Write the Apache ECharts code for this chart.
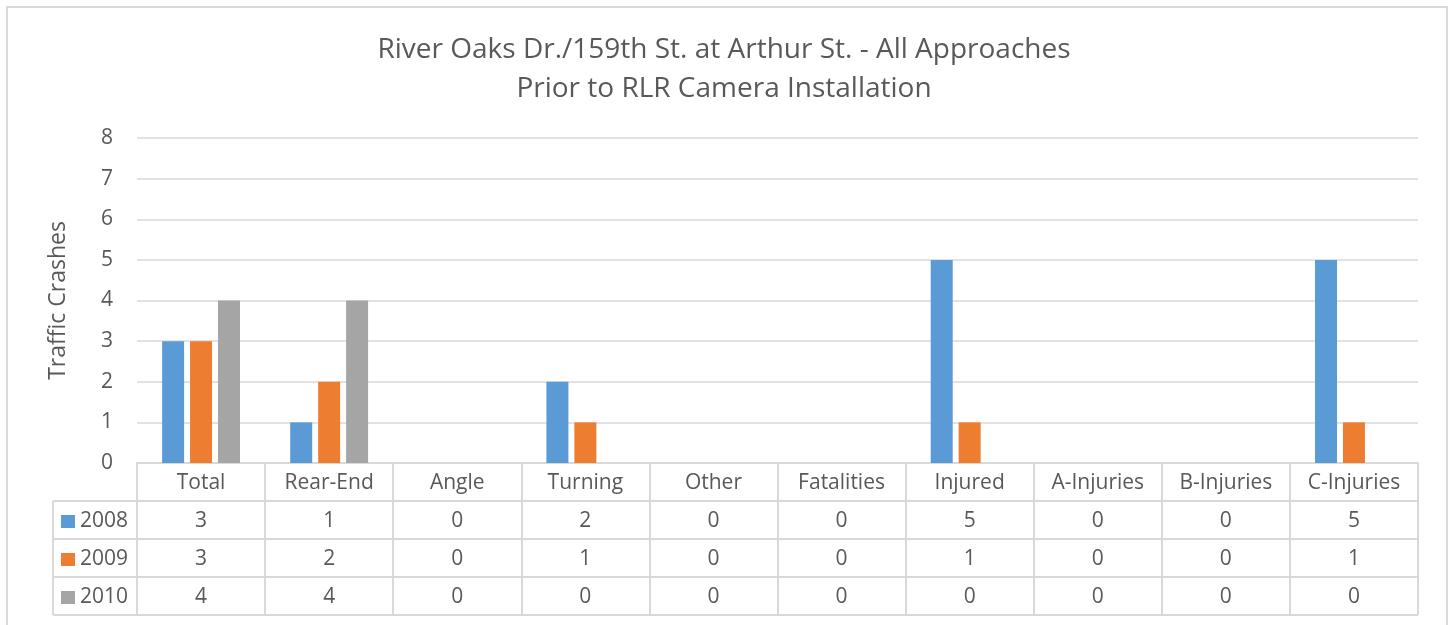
<!DOCTYPE html>
<html>
<head>
<meta charset="utf-8">
<script src="https://cdn.jsdelivr.net/npm/echarts@6/dist/echarts.min.js"></script>
<style>
html,body{margin:0;padding:0;background:#fff;}
#chart{width:1448px;height:625px;}
</style>
</head>
<body>
<div id="chart"></div>
<script>
const titleLines = ['River Oaks Dr./159th St. at Arthur St. - All Approaches', 'Prior to RLR Camera Installation'];
const categories = ['Total','Rear-End','Angle','Turning','Other','Fatalities','Injured','A-Injuries','B-Injuries','C-Injuries'];
const seriesNames = ['2008','2009','2010'];
const values2008 = [3,1,0,2,0,0,5,0,0,5];
const values2009 = [3,2,0,1,0,0,1,0,0,1];
const values2010 = [4,4,0,0,0,0,0,0,0,0];
const yTicks = [0,1,2,3,4,5,6,7,8];
const yAxisName = 'Traffic Crashes';

const seriesValues = [values2008, values2009, values2010];
const colors = ['#5b9bd5','#ed7d31','#a5a5a5'];
const FONT = 'Open Sans';
const TEXT = '#595959';
const LINE = '#d9d9d9';

// layout constants
const W = 1448, H = 625;
const gridLeft = 137, gridRight = 30, gridTop = 138, axisY = 463;
const rowH = 38, tableLeft = 53;
const labelSize = 21;
const labelMargin = 10;

const chart = echarts.init(document.getElementById('chart'), null, {renderer:'canvas'});

const xAxes = [{
  type:'category', data: categories, gridIndex:0, position:'bottom',
  axisLine:{show:true, lineStyle:{color:LINE, width:2}},
  axisTick:{show:true, length: rowH*4, lineStyle:{color:LINE, width:2}},
  axisLabel:{color:TEXT, fontFamily:FONT, fontSize:labelSize, margin:labelMargin}
}];
seriesValues.forEach((vals, k) => {
  xAxes.push({
    type:'category', data: categories, gridIndex:0, position:'bottom', offset: rowH*(k+1),
    axisLine:{show:false}, axisTick:{show:false},
    axisLabel:{color:TEXT, fontFamily:FONT, fontSize:labelSize, margin:labelMargin,
      formatter:(v, i) => String(vals[i])}
  });
});

const legends = seriesNames.map((n, k) => ({
  data:[n], orient:'vertical', left: 61, top: axisY + rowH*(k+1) + 10,
  itemWidth:14, itemHeight:13, icon:'rect', padding:0,
  selectedMode:false,
  textStyle:{color:TEXT, fontFamily:FONT, fontSize:labelSize}
}));

const graphics = [
  {type:'rect', shape:{x:7, y:7, width:1440, height:640}, style:{fill:'none', stroke:LINE, lineWidth:2}, silent:true, z:-1}
];
for (let k = 1; k <= 4; k++) {
  const y = axisY + rowH*k;
  graphics.push({type:'line', shape:{x1:tableLeft, y1:y, x2:W-gridRight, y2:y}, style:{stroke:LINE, lineWidth:2}, silent:true});
}
graphics.push({type:'line', shape:{x1:tableLeft, y1:axisY+rowH, x2:tableLeft, y2:axisY+rowH*4}, style:{stroke:LINE, lineWidth:2}, silent:true});

const option = {
  backgroundColor:'#fff',
  animation:false,
  color: colors,
  title:{
    text: titleLines.join('\n'), left:'center', top: 26,
    textStyle:{color:TEXT, fontFamily:FONT, fontSize:28, fontWeight:'normal', lineHeight:39}
  },
  legend: legends,
  grid:{left:gridLeft, right:gridRight, top:gridTop, bottom:H-axisY, containLabel:false},
  xAxis: xAxes,
  yAxis:{
    type:'value', min: yTicks[0], max: yTicks[yTicks.length-1], interval:1,
    name: yAxisName, nameLocation:'middle', nameGap: 67, nameRotate:90,
    nameTextStyle:{color:TEXT, fontFamily:FONT, fontSize:23},
    axisLine:{show:false}, axisTick:{show:false},
    axisLabel:{color:TEXT, fontFamily:FONT, fontSize:labelSize, margin:24},
    splitLine:{lineStyle:{color:LINE, width:1.5}}
  },
  series: seriesNames.map((n, k) => ({
    name:n, type:'bar', xAxisIndex:0, data: seriesValues[k],
    barWidth: 22, barGap:'27%',
    itemStyle:{color:colors[k]}
  })),
  graphic: graphics
};
chart.setOption(option);
</script>
</body>
</html>
